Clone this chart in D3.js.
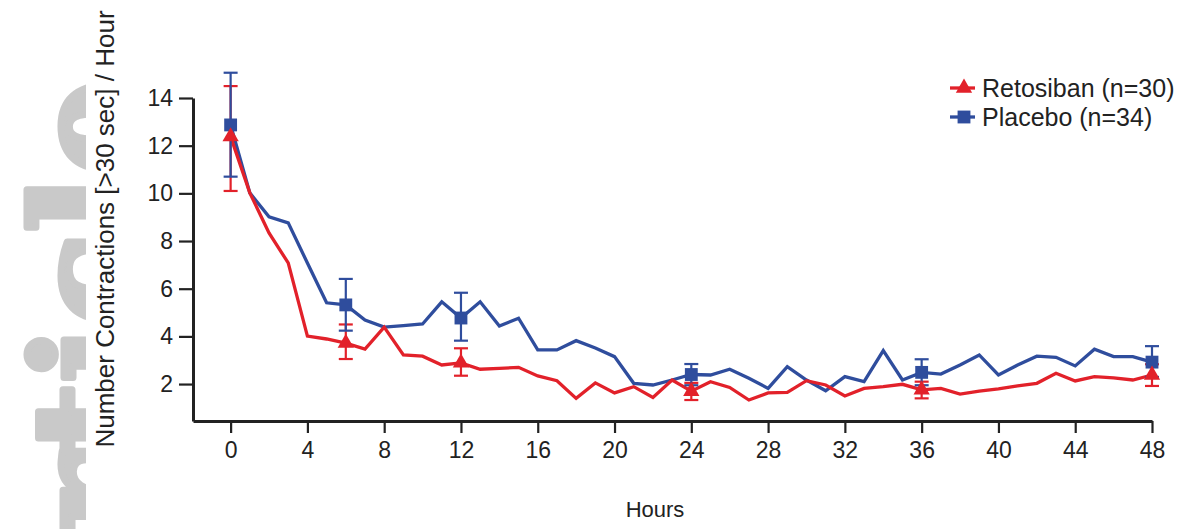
<!DOCTYPE html>
<html>
<head>
<meta charset="utf-8">
<script src="https://cdn.jsdelivr.net/npm/d3@7"></script>
<style>
  body { margin: 0; background: #fff; }
  svg { display: block; font-family: "Liberation Sans", Arial, sans-serif; }
</style>
</head>
<body>
<div id="chart"></div>
<script>
// hours after start of infusion
const hours = [0, 1, 2, 3, 4, 5, 6, 7, 8, 9, 10, 11, 12, 13, 14, 15, 16, 17, 18, 19, 20, 21, 22, 23, 24,
  25, 26, 27, 28, 29, 30, 31, 32, 33, 34, 35, 36, 37, 38, 39, 40, 41, 42, 43, 44, 45, 46, 47, 48];

// mean contractions (>30 sec) per hour
const retosiban = [12.38, 10.02, 8.34, 7.08, 4.01, 3.89, 3.72, 3.47, 4.39, 3.22, 3.17, 2.8, 2.89, 2.62, 2.66, 2.7,
  2.34, 2.14, 1.4, 2.05, 1.63, 1.89, 1.44, 2.17, 1.7, 2.1, 1.86, 1.33, 1.63, 1.65, 2.14, 1.96, 1.5, 1.82, 1.89,
  1.99, 1.76, 1.82, 1.58, 1.7, 1.8, 1.92, 2.03, 2.45, 2.13, 2.31, 2.26, 2.17, 2.38];
const placebo = [12.87, 10.02, 9.02, 8.76, 7.08, 5.41, 5.32, 4.69, 4.39, 4.45, 4.52, 5.45, 4.77, 5.45, 4.43, 4.76,
  3.43, 3.43, 3.82, 3.51, 3.15, 2.03, 1.96, 2.17, 2.4, 2.38, 2.62, 2.24, 1.82, 2.73, 2.17, 1.72, 2.31, 2.1, 3.4,
  2.17, 2.49, 2.42, 2.8, 3.22, 2.38, 2.8, 3.17, 3.12, 2.76, 3.46, 3.15, 3.15, 2.92];

// hours with a marker and error bar
const errHours = [0, 6, 12, 24, 36, 48];
const retosibanLow  = [10.1, 3.05, 2.35, 1.33, 1.4, 1.92];
const retosibanHigh = [14.5, 4.5, 3.5, 2.05, 2.1, 2.83];
const placeboLow    = [10.7, 4.24, 3.82, 1.95, 1.95, 2.3];
const placeboHigh   = [15.06, 6.41, 5.83, 2.84, 3.04, 3.59];

const xTicks = [0, 4, 8, 12, 16, 20, 24, 28, 32, 36, 40, 44, 48];
const yTicks = [2, 4, 6, 8, 10, 12, 14];
const seriesNames = ["Retosiban (n=30)", "Placebo (n=34)"];

const width = 1192, height = 529;
const red = "#e2212a", blue = "#2f4d9d", ink = "#222";

const svg = d3.select("#chart").append("svg")
  .attr("width", width)
  .attr("height", height);

// faint watermark on the left edge, only its top part shows
svg.append("clipPath").attr("id", "wm-clip")
  .append("rect").attr("x", 0).attr("y", 0).attr("width", 86).attr("height", height);
svg.append("g")
  .attr("clip-path", "url(#wm-clip)")
  .append("text")
  .attr("transform", "translate(142,78) rotate(-90)")
  .attr("text-anchor", "end")
  .style("font-family", "'DejaVu Serif', serif")
  .style("font-weight", "bold")
  .style("font-size", "152px")
  .attr("fill", "#c9c9c9")
  .attr("stroke", "#c9c9c9")
  .attr("stroke-width", 7)
  .attr("stroke-linejoin", "round")
  .text("Article");

// scales: axes meet at the lower left, a bit before hour 0
const x = d3.scaleLinear().domain([-1.96, 48]).range([193, 1152]);
const y = d3.scaleLinear().domain([0.45, 14]).range([421, 98]);

const yAxis = svg.append("g")
  .attr("transform", "translate(193,0)")
  .call(d3.axisLeft(y).tickValues(yTicks).tickSize(14).tickSizeOuter(0).tickPadding(6));
const xAxis = svg.append("g")
  .attr("transform", "translate(0,421)")
  .call(d3.axisBottom(x).tickValues(xTicks).tickSize(12).tickSizeOuter(0).tickPadding(9));

[yAxis, xAxis].forEach(a => {
  a.select(".domain").attr("stroke", ink).attr("stroke-width", 3);
  a.selectAll(".tick line").attr("stroke", ink).attr("stroke-width", 2.2);
  a.selectAll(".tick text").attr("fill", ink).style("font-size", "23px");
});

// axis titles
svg.append("text")
  .attr("transform", `translate(114,229) rotate(-90)`)
  .attr("text-anchor", "middle")
  .attr("fill", ink)
  .style("font-size", "26px")
  .text("Number Contractions [>30 sec] / Hour");
svg.append("text")
  .attr("x", 655)
  .attr("y", 517)
  .attr("text-anchor", "middle")
  .attr("fill", ink)
  .style("font-size", "22px")
  .text("Hours");

const line = d3.line()
  .x(d => x(d[0]))
  .y(d => y(d[1]));

const series = [
  { name: seriesNames[1], values: placebo, low: placeboLow, high: placeboHigh, color: blue, symbol: d3.symbolSquare, size: 165 },
  { name: seriesNames[0], values: retosiban, low: retosibanLow, high: retosibanHigh, color: red, symbol: d3.symbolTriangle, size: 115 }
];

const plot = svg.append("g");

series.forEach(s => {
  plot.append("path")
    .datum(hours.map((h, i) => [h, s.values[i]]))
    .attr("fill", "none")
    .attr("stroke", s.color)
    .attr("stroke-width", 3.3)
    .attr("stroke-linejoin", "miter")
    .attr("d", line);
});

// error bars, red first so blue caps sit on top like the original
series.slice().reverse().forEach(s => {
  const g = plot.append("g").attr("stroke", s.color).attr("stroke-width", 2.2);
  errHours.forEach((h, i) => {
    const cx = x(h);
    g.append("line").attr("x1", cx).attr("x2", cx).attr("y1", y(s.low[i])).attr("y2", y(s.high[i]));
    g.append("line").attr("x1", cx - 7).attr("x2", cx + 7).attr("y1", y(s.low[i])).attr("y2", y(s.low[i]));
    g.append("line").attr("x1", cx - 7).attr("x2", cx + 7).attr("y1", y(s.high[i])).attr("y2", y(s.high[i]));
  });
});

series.forEach(s => {
  plot.append("g")
    .selectAll("path")
    .data(errHours)
    .join("path")
    .attr("transform", h => `translate(${x(h)},${y(s.values[hours.indexOf(h)])})`)
    .attr("d", d3.symbol().type(s.symbol).size(s.size))
    .attr("fill", s.color);
});

// legend
const legend = svg.append("g").attr("transform", "translate(950,88)");
[series[1], series[0]].forEach((s, i) => {
  const row = legend.append("g").attr("transform", `translate(0,${i * 29})`);
  row.append("line").attr("x1", 0).attr("x2", 25).attr("stroke", s.color).attr("stroke-width", 3.3);
  row.append("path")
    .attr("transform", "translate(14,0)")
    .attr("d", d3.symbol().type(s.symbol).size(s.size))
    .attr("fill", s.color);
  row.append("text")
    .attr("x", 32)
    .attr("dy", "0.35em")
    .attr("fill", ink)
    .style("font-size", "25px")
    .text(s.name);
});
</script>
</body>
</html>
